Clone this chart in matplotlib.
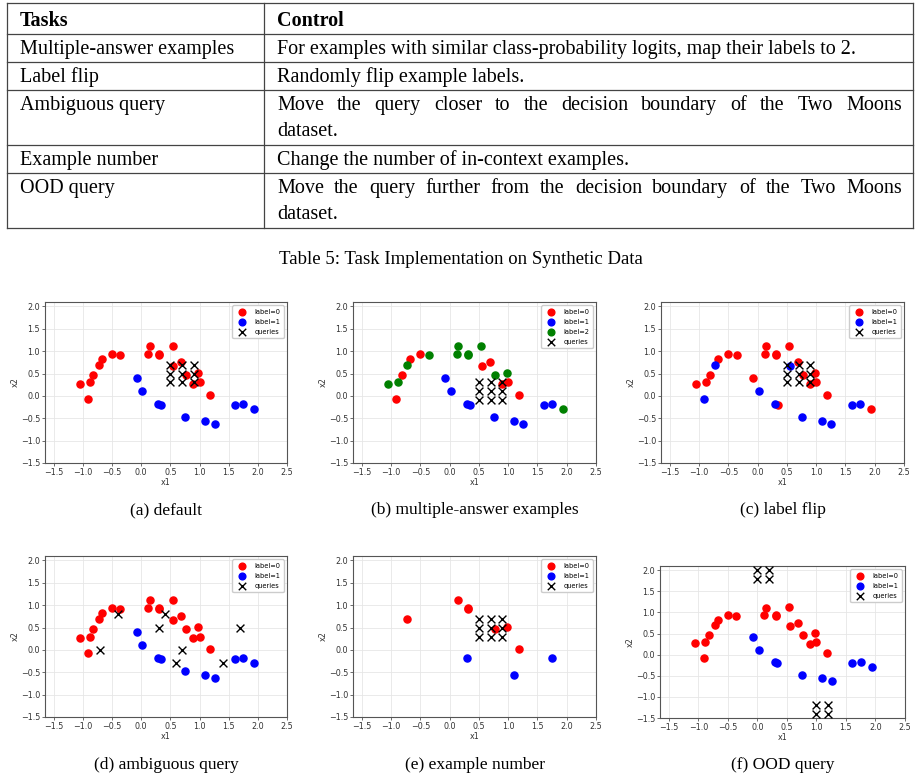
import numpy as np
import matplotlib
matplotlib.use('Agg')
from matplotlib import pyplot as plt

# ---------------- table content ----------------
task_names = ['Multiple-answer examples', 'Label flip', 'Ambiguous query',
              'Example number', 'OOD query']
task_controls = [
    ['For examples with similar class-probability logits, map their labels to 2.'],
    ['Randomly flip example labels.'],
    ['Move the query closer to the decision boundary of the Two Moons', 'dataset.'],
    ['Change the number of in-context examples.'],
    ['Move the query further from the decision boundary of the Two Moons', 'dataset.'],
]
table_caption = 'Table 5: Task Implementation on Synthetic Data'

# ---------------- base two-moons examples ----------------
red_x = [-1.05, -0.88, -0.91, -0.82, -0.72, -0.67, -0.50, -0.36, 0.12, 0.15,
         0.31, 0.31, 0.54, 0.55, 0.69, 0.77, 0.89, 0.98, 1.00, 1.18]
red_y = [0.27, 0.30, -0.08, 0.47, 0.70, 0.82, 0.94, 0.91, 0.94, 1.11,
         0.94, 0.91, 1.12, 0.68, 0.76, 0.47, 0.26, 0.51, 0.30, 0.03]
blue_x = [-0.08, 0.02, 0.29, 0.34, 0.75, 1.10, 1.26, 1.61, 1.75, 1.94]
blue_y = [0.41, 0.11, -0.18, -0.20, -0.47, -0.56, -0.63, -0.20, -0.17, -0.30]

# queries
grid_qx = [0.5, 0.7, 0.9, 0.5, 0.7, 0.9, 0.5, 0.7, 0.9]
grid_qy = [0.3, 0.3, 0.3, 0.5, 0.5, 0.5, 0.7, 0.7, 0.7]
multi_qy = [-0.1, -0.1, -0.1, 0.1, 0.1, 0.1, 0.3, 0.3, 0.3]
ambig_qx = [-0.7, -0.4, 0.3, 0.4, 0.6, 0.7, 1.4, 1.7]
ambig_qy = [0.0, 0.8, 0.5, 0.8, -0.3, 0.0, -0.3, 0.5]
ood_qx = [0.0, 0.2, 0.0, 0.2, 1.0, 1.2, 1.0, 1.2]
ood_qy = [2.0, 2.0, 1.8, 1.8, -1.2, -1.2, -1.4, -1.4]

# (b) multiple-answer labels
multi_red_x = [-0.91, -0.82, -0.67, -0.50, 0.55, 0.69, 0.89, 1.00, 1.18]
multi_red_y = [-0.08, 0.47, 0.82, 0.94, 0.68, 0.76, 0.26, 0.30, 0.03]
multi_blue_x = [-0.08, 0.02, 0.29, 0.34, 0.75, 1.10, 1.26, 1.61, 1.75]
multi_blue_y = [0.41, 0.11, -0.18, -0.20, -0.47, -0.56, -0.63, -0.20, -0.17]
multi_green_x = [-1.05, -0.88, -0.72, -0.36, 0.12, 0.15, 0.31, 0.31, 0.54, 0.77, 0.98, 1.94]
multi_green_y = [0.27, 0.30, 0.70, 0.91, 0.94, 1.11, 0.94, 0.91, 1.12, 0.47, 0.51, -0.30]

# (c) label flip
flip_red_x = [-1.05, -0.88, -0.82, -0.67, -0.50, -0.36, -0.08, 0.12, 0.15, 0.31,
              0.31, 0.34, 0.54, 0.69, 0.77, 0.89, 0.98, 1.00, 1.18, 1.94]
flip_red_y = [0.27, 0.30, 0.47, 0.82, 0.94, 0.91, 0.41, 0.94, 1.11, 0.94,
              0.91, -0.20, 1.12, 0.76, 0.47, 0.26, 0.51, 0.30, 0.03, -0.30]
flip_blue_x = [-0.91, -0.72, 0.02, 0.29, 0.55, 0.75, 1.10, 1.26, 1.61, 1.75]
flip_blue_y = [-0.08, 0.70, 0.11, -0.18, 0.68, -0.47, -0.56, -0.63, -0.20, -0.17]

# (e) fewer examples
few_red_x = [-0.72, 0.15, 0.31, 0.31, 0.77, 0.98, 1.18]
few_red_y = [0.70, 1.11, 0.94, 0.91, 0.47, 0.51, 0.03]
few_blue_x = [0.29, 1.10, 1.75]
few_blue_y = [-0.18, -0.56, -0.17]

W, H = 921, 780
fig = plt.figure(figsize=(W / 100, H / 100), dpi=100)

# ---------------- table ----------------
tab = fig.add_axes([0, 0, 1, 1])
tab.set_xlim(0, W)
tab.set_ylim(H, 0)
tab.axis('off')
serif = 'Liberation Serif'
fs_tab = 14.5
line_kw = dict(color='#444444', lw=0.9)
x_left, x_mid, x_right = 7, 264, 913
row_lines = [3, 34, 62, 90, 145, 173, 228]
for yy in row_lines:
    tab.plot([x_left, x_right], [yy, yy], **line_kw)
for xx in [x_left, x_mid, x_right]:
    tab.plot([xx, xx], [row_lines[0], row_lines[-1]], **line_kw)

tab.text(20, 26, 'Tasks', fontsize=fs_tab, family=serif, weight='bold', va='baseline')
tab.text(277, 26, 'Control', fontsize=fs_tab, family=serif, weight='bold', va='baseline')

fig.canvas.draw()
renderer = fig.canvas.get_renderer()


def justify(ax, words_line, x0, x1, y):
    words = words_line.split()
    ts = [ax.text(0, y, w, fontsize=fs_tab, family=serif, va='baseline') for w in words]
    widths = [t.get_window_extent(renderer).width for t in ts]
    gap = (x1 - x0 - sum(widths)) / (len(words) - 1)
    xx = x0
    for t, w in zip(ts, widths):
        t.set_x(xx)
        xx += w + gap


for i, (name, ctrl) in enumerate(zip(task_names, task_controls)):
    y0 = row_lines[i + 1] + 20
    tab.text(20, y0, name, fontsize=fs_tab, family=serif, va='baseline')
    if len(ctrl) == 1:
        tab.text(277, y0, ctrl[0], fontsize=fs_tab, family=serif, va='baseline')
    else:
        justify(tab, ctrl[0], 277, 902, y0)
        tab.text(277, y0 + 26, ctrl[1], fontsize=fs_tab, family=serif, va='baseline')

tab.text(W / 2, 260, table_caption, fontsize=13.5, family=serif, ha='center', va='center')


# ---------------- scatter panels ----------------
def panel(box, groups, qx, qy, caption, cap_y):
    l, t, r, b = box
    ax = fig.add_axes([l / W, 1 - b / H, (r - l) / W, (b - t) / H])
    for gx, gy, col, lab in groups:
        ax.scatter(gx, gy, s=26, c=col, label=lab, zorder=3)
    ax.scatter(qx, qy, s=32, c='black', marker='x', linewidths=1.0, label='queries', zorder=4)
    ax.set_xlim(-1.65, 2.5)
    ax.set_ylim(-1.5, 2.1)
    ax.set_xticks(np.arange(-1.5, 2.51, 0.5))
    ax.set_yticks(np.arange(-1.5, 2.01, 0.5))
    ax.grid(True, color='#e6e6e6', lw=0.6, zorder=0)
    ax.set_axisbelow(True)
    ax.tick_params(labelsize=5.8, length=2, width=0.5, pad=1.5, colors='#333333')
    for sp in ax.spines.values():
        sp.set_color('#555555')
        sp.set_linewidth(0.8)
    ax.set_xlabel('x1', fontsize=5.8, labelpad=1, color='#333333')
    ax.set_ylabel('x2', fontsize=5.8, labelpad=1, color='#333333')
    ax.legend(loc='upper right', fontsize=4.8, handletextpad=0.8, borderpad=0.5,
              labelspacing=0.6, markerscale=0.95, framealpha=1, edgecolor='#cccccc')
    cx = (l + r) / 2
    fig.text(cx / W, 1 - cap_y / H, caption, fontsize=12.5, family=serif,
             ha='center', va='center')
    return ax


base = [(red_x, red_y, 'red', 'label=0'), (blue_x, blue_y, 'blue', 'label=1')]

panel((45, 302, 287, 463), base, grid_qx, grid_qy, '(a) default', 510)
panel((353, 302, 596, 463),
      [(multi_red_x, multi_red_y, 'red', 'label=0'),
       (multi_blue_x, multi_blue_y, 'blue', 'label=1'),
       (multi_green_x, multi_green_y, 'green', 'label=2')],
      grid_qx, multi_qy, '(b) multiple-answer examples', 510)
panel((661, 302, 904, 463),
      [(flip_red_x, flip_red_y, 'red', 'label=0'),
       (flip_blue_x, flip_blue_y, 'blue', 'label=1')],
      grid_qx, grid_qy, '(c) label flip', 510)
panel((45, 556, 287, 717), base, ambig_qx, ambig_qy, '(d) ambiguous query', 765)
panel((353, 556, 596, 717),
      [(few_red_x, few_red_y, 'red', 'label=0'),
       (few_blue_x, few_blue_y, 'blue', 'label=1')],
      grid_qx, grid_qy, '(e) example number', 765)
panel((660, 566, 905, 718), base, ood_qx, ood_qy, '(f) OOD query', 765)

fig.savefig('out.png', dpi=100)
